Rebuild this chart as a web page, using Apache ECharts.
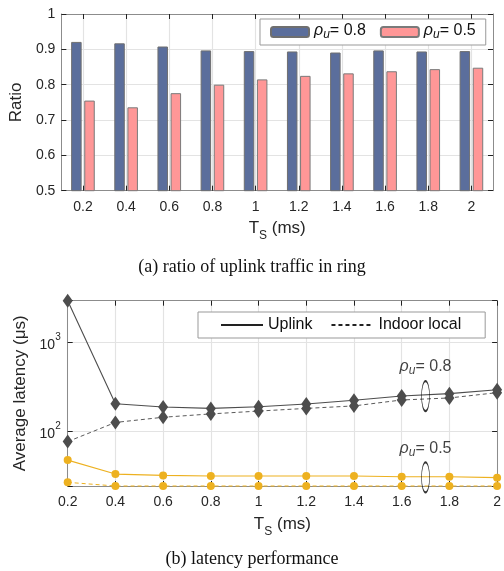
<!DOCTYPE html>
<html><head><meta charset="utf-8">
<script src="https://cdn.jsdelivr.net/npm/echarts@6/dist/echarts.min.js"></script>
<style>html,body{margin:0;padding:0;background:#fff}#c{width:504px;height:571px}</style>
</head><body><div id="c"></div>
<script>
// ---- data ----
const tsCategories = ['0.2','0.4','0.6','0.8','1','1.2','1.4','1.6','1.8','2'];
const ratioRho08 = [0.921, 0.917, 0.908, 0.897, 0.895, 0.894, 0.891, 0.897, 0.894, 0.895];
const ratioRho05 = [0.755, 0.736, 0.776, 0.800, 0.815, 0.825, 0.832, 0.838, 0.844, 0.848];
const tsValues = [0.2, 0.4, 0.6, 0.8, 1.0, 1.2, 1.4, 1.6, 1.8, 2.0];
const uplinkRho08 = [2950, 203, 187, 180, 188, 202, 222, 248, 264, 292];
const localRho08 = [76, 125, 143, 156, 168, 180, 192, 224, 236, 271];
const uplinkRho05 = [47, 32.7, 31.6, 31.1, 31.1, 31.1, 31.1, 30.5, 30.5, 29.8];
const localRho05 = [26.4, 24, 24, 24, 24, 24, 24, 24, 24, 24];
const ellipseX = [1.7, 1.7];
const ellipseY = [248, 30];
const ellipseLabels = ['0.8', '0.5'];
const yLogMin = 24, yLogMax = 2950;

// ---- helpers ----
const FONT = '"Liberation Sans", Arial, sans-serif';
const pair = (xs, ys) => xs.map((x, i) => [x, ys[i]]);
const rhoRich = {
  i: { fontFamily: FONT, fontSize: 16, fontStyle: 'italic', color: '#111', lineHeight: 18, verticalAlign: 'top' },
  s: { fontFamily: FONT, fontSize: 12, fontStyle: 'italic', color: '#111', lineHeight: 10, verticalAlign: 'bottom' },
  n: { fontFamily: FONT, fontSize: 16, color: '#111', lineHeight: 18, verticalAlign: 'top' }
};
const rhoText = v => '{i|ρ}{s|u}{n|= ' + v + '}';
const tsName = '{t|T}{s|S}{t| (ms)}';
const tsRich = {
  t: { fontFamily: FONT, fontSize: 17, color: '#262626', lineHeight: 24, verticalAlign: 'top', padding: [2,0,0,0] },
  s: { fontFamily: FONT, fontSize: 12, color: '#262626', lineHeight: 12, verticalAlign: 'bottom' }
};
const gridLine = { show: true, lineStyle: { color: '#e3e3e3', width: 1.2 } };
const axLine = { show: true, onZero: false, lineStyle: { color: '#8c8c8c', width: 1 } };
const tickIn = { show: true, inside: true, length: 5, lineStyle: { color: '#222', width: 1 } };
const lbl = { fontFamily: FONT, fontSize: 14, color: '#262626' };
const isPow10 = v => { const l = Math.log10(v); return Math.abs(l - Math.round(l)) < 1e-6; };
const ellipsePath = 'path://M0,-1 C0.552,-1 1,-0.552 1,0 C1,0.552 0.552,1 0,1 C-0.552,1 -1,0.552 -1,0 C-1,-0.552 -0.552,-1 0,-1 Z';

const chart = echarts.init(document.getElementById('c'), null, { renderer: 'canvas' });
const option = {
  animation: false,
  backgroundColor: '#fff',
  title: [
    { text: '(a) ratio of uplink traffic in ring', left: 'center', top: 253,
      textStyle: { fontFamily: '"Liberation Serif", "Times New Roman", serif', fontSize: 18, fontWeight: 'normal', color: '#111' } },
    { text: '(b) latency performance', left: 'center', top: 545,
      textStyle: { fontFamily: '"Liberation Serif", "Times New Roman", serif', fontSize: 18, fontWeight: 'normal', color: '#111' } }
  ],
  grid: [
    { left: 60, right: 11, top: 14, height: 176.7 },
    { left: 67.7, right: 4, top: 300.7, height: 185.3 }
  ],
  legend: [
    { data: ['ρu= 0.8', 'ρu= 0.5'], left: 260, top: 19, orient: 'horizontal',
      itemWidth: 38, itemHeight: 10, itemGap: 14, padding: [4, 10, 4, 10],
      borderColor: '#999', borderWidth: 1, backgroundColor: '#fff',
      formatter: n => rhoText(n.slice(4)), textStyle: { rich: rhoRich } },
    { data: ['Uplink', 'Indoor local'], left: 198, top: 312, orient: 'horizontal',
      itemWidth: 42, itemHeight: 10, itemGap: 18, padding: [5, 24, 5, 22],
      borderColor: '#999', borderWidth: 1, backgroundColor: '#fff',
      textStyle: { fontFamily: FONT, fontSize: 16, color: '#111' } }
  ],
  xAxis: [
    { type: 'category', gridIndex: 0, data: tsCategories, position: 'bottom',
      axisLine: axLine, axisTick: Object.assign({ alignWithLabel: true }, tickIn),
      splitLine: Object.assign({ alignWithLabel: true }, gridLine),
      axisLabel: Object.assign({ margin: 9 }, lbl),
      name: tsName, nameLocation: 'middle', nameGap: 27, nameTextStyle: { rich: tsRich } },
    { type: 'category', gridIndex: 0, data: tsCategories, position: 'top',
      axisLine: axLine, axisTick: Object.assign({ alignWithLabel: true }, tickIn),
      axisLabel: { show: false }, splitLine: { show: false } },
    { type: 'value', gridIndex: 1, min: 0.2, max: 2, interval: 0.2, position: 'bottom',
      axisLine: axLine, axisTick: tickIn, splitLine: gridLine,
      axisLabel: Object.assign({ margin: 9 }, lbl),
      name: tsName, nameLocation: 'middle', nameGap: 28, nameTextStyle: { rich: tsRich } },
    { type: 'value', gridIndex: 1, min: 0.2, max: 2, interval: 0.2, position: 'top',
      axisLine: axLine, axisTick: tickIn, splitLine: { show: false }, axisLabel: { show: false } }
  ],
  yAxis: [
    { type: 'value', gridIndex: 0, min: 0.5, max: 1, interval: 0.1, position: 'left',
      axisLine: axLine, axisTick: tickIn, splitLine: gridLine,
      axisLabel: Object.assign({ margin: 6 }, lbl),
      name: 'Ratio', nameLocation: 'middle', nameGap: 34,
      nameTextStyle: { fontFamily: FONT, fontSize: 17, color: '#262626' } },
    { type: 'value', gridIndex: 0, min: 0.5, max: 1, interval: 0.1, position: 'right',
      axisLine: axLine, axisTick: tickIn, splitLine: { show: false }, axisLabel: { show: false } },
    { type: 'log', logBase: 10, gridIndex: 1, min: yLogMin, max: yLogMax, position: 'left',
      axisLine: axLine, axisTick: tickIn,
      splitLine: { show: true, lineStyle: { color: '#e3e3e3', width: 1.2 } },
      axisLabel: Object.assign({ margin: 7, showMinLabel: true, showMaxLabel: true,
        formatter: v => isPow10(v) ? '{b|10}{sp|' + Math.round(Math.log10(v)) + '}' : '',
        rich: {
          b: { fontFamily: FONT, fontSize: 14, color: '#262626', lineHeight: 20, verticalAlign: 'bottom' },
          sp: { fontFamily: FONT, fontSize: 10, color: '#262626', lineHeight: 12, verticalAlign: 'top' }
        } }, lbl),
      name: 'Average latency (μs)', nameLocation: 'middle', nameGap: 25,
      nameTextStyle: { fontFamily: FONT, fontSize: 17, color: '#262626' } },
    { type: 'log', logBase: 10, gridIndex: 1, min: yLogMin, max: yLogMax, position: 'right',
      axisLine: axLine, axisTick: tickIn, splitLine: { show: false }, axisLabel: { show: false } }
  ],
  series: [
    { name: 'ρu= 0.8', type: 'bar', xAxisIndex: 0, yAxisIndex: 0, data: ratioRho08,
      barWidth: 10.5, barGap: '25%',
      itemStyle: { color: '#5B6E9C', borderColor: '#6f6f6f', borderWidth: 1 } },
    { name: 'ρu= 0.5', type: 'bar', xAxisIndex: 0, yAxisIndex: 0, data: ratioRho05,
      barWidth: 10.5, barGap: '25%',
      itemStyle: { color: '#FF9797', borderColor: '#7a7a7a', borderWidth: 1 } },

    { name: 'Uplink ρu=0.8', type: 'line', xAxisIndex: 2, yAxisIndex: 2, data: pair(tsValues, uplinkRho08),
      clip: false, symbol: 'diamond', symbolSize: [10, 14],
      lineStyle: { color: '#4d4d4d', width: 1.1, type: 'solid' }, itemStyle: { color: '#4d4d4d' }, z: 3 },
    { name: 'Indoor ρu=0.8', type: 'line', xAxisIndex: 2, yAxisIndex: 2, data: pair(tsValues, localRho08),
      clip: false, symbol: 'diamond', symbolSize: [10, 14],
      lineStyle: { color: '#5a5a5a', width: 1, type: [4, 3] }, itemStyle: { color: '#4d4d4d' }, z: 3 },
    { name: 'Uplink ρu=0.5', type: 'line', xAxisIndex: 2, yAxisIndex: 2, data: pair(tsValues, uplinkRho05),
      clip: false, symbol: 'circle', symbolSize: 8,
      lineStyle: { color: '#EDB120', width: 1.1, type: 'solid' }, itemStyle: { color: '#EDB120' }, z: 3 },
    { name: 'Indoor ρu=0.5', type: 'line', xAxisIndex: 2, yAxisIndex: 2, data: pair(tsValues, localRho05),
      clip: false, symbol: 'circle', symbolSize: 8,
      lineStyle: { color: '#EDB120', width: 1, type: [4, 3] }, itemStyle: { color: '#EDB120' }, z: 3 },

    { name: 'Uplink', type: 'line', xAxisIndex: 2, yAxisIndex: 2, data: [], symbol: 'none',
      lineStyle: { color: '#222', width: 1.2, type: 'solid' },
      itemStyle: { color: 'rgba(0,0,0,0)', borderWidth: 0 } },
    { name: 'Indoor local', type: 'line', xAxisIndex: 2, yAxisIndex: 2, data: [], symbol: 'none',
      lineStyle: { color: '#222', width: 1.2, type: [4, 3] },
      itemStyle: { color: 'rgba(0,0,0,0)', borderWidth: 0 } },

    { name: 'annot', type: 'scatter', xAxisIndex: 2, yAxisIndex: 2, clip: false, z: 5,
      data: ellipseX.map((x, i) => ({ value: [x, ellipseY[i]], lab: ellipseLabels[i] })),
      symbol: ellipsePath, symbolSize: [8, 30],
      itemStyle: { color: 'rgba(0,0,0,0)', borderColor: '#000', borderWidth: 1.2 },
      label: { show: true, position: 'top', distance: 3,
        formatter: p => rhoText(p.data.lab), rich: rhoRich } }
  ]
};
chart.setOption(option);
</script>
</body></html>
